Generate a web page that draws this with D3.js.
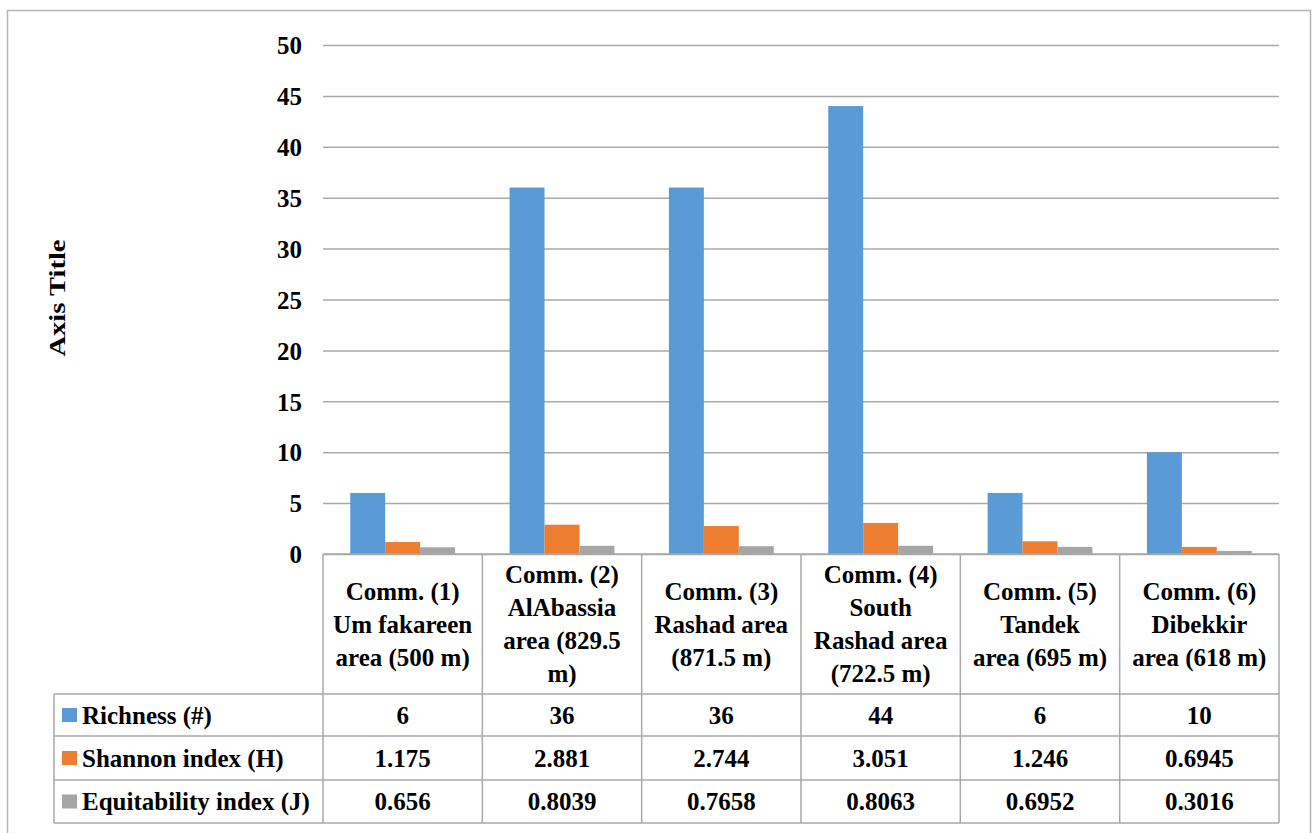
<!DOCTYPE html>
<html>
<head>
<meta charset="utf-8">
<script src="https://cdn.jsdelivr.net/npm/d3@7"></script>
<style>
  html, body { margin: 0; padding: 0; background: #fff; }
</style>
</head>
<body>
<svg id="chart" width="1314" height="833"></svg>
<script>
// chart values
const categories = ['c1', 'c2', 'c3', 'c4', 'c5', 'c6'];
const categoryLines = [
  ['Comm. (1)', 'Um fakareen', 'area (500 m)'],
  ['Comm. (2)', 'AlAbassia', 'area (829.5', 'm)'],
  ['Comm. (3)', 'Rashad area', '(871.5 m)'],
  ['Comm. (4)', 'South', 'Rashad area', '(722.5 m)'],
  ['Comm. (5)', 'Tandek', 'area (695 m)'],
  ['Comm. (6)', 'Dibekkir', 'area (618 m)']
];
const seriesNames = ['Richness (#)', 'Shannon index (H)', 'Equitability index (J)'];
const richness = [6, 36, 36, 44, 6, 10];
const shannon = [1.175, 2.881, 2.744, 3.051, 1.246, 0.6945];
const equitability = [0.656, 0.8039, 0.7658, 0.8063, 0.6952, 0.3016];
const seriesLabels = [
  ['6', '36', '36', '44', '6', '10'],
  ['1.175', '2.881', '2.744', '3.051', '1.246', '0.6945'],
  ['0.656', '0.8039', '0.7658', '0.8063', '0.6952', '0.3016']
];
const yTicks = [0, 5, 10, 15, 20, 25, 30, 35, 40, 45, 50];

const colors = ['#5b9bd5', '#ed7d31', '#a5a5a5'];
const seriesValues = [richness, shannon, equitability];
const gridColor = '#a9a9a9';

const svg = d3.select('#chart');
const label = (sel, size) => sel
  .style('font-family', `"Liberation Serif"`).style('font-weight', 'bold')
  .style('font-size', size + 'px').style('fill', '#000');

// outer frame
svg.append('rect')
  .attr('x', 7.5).attr('y', 10.5)
  .attr('width', 1303).attr('height', 840)
  .attr('fill', 'none').attr('stroke', '#b4b4b4').attr('stroke-width', 1.5);

const plotLeft = 323, plotRight = 1279, plotTop = 45, plotBottom = 554;
const rowEdges = [554, 694, 736, 780, 823];
const legendLeft = 54;

const x0 = d3.scaleBand().domain(categories).range([plotLeft, plotRight]).padding(0);
const x1 = d3.scaleBand().domain(d3.range(seriesNames.length))
  .range([0, x0.bandwidth()]).paddingInner(0).paddingOuter(0.78);
const y = d3.scaleLinear().domain([0, 50]).range([plotBottom, plotTop]);

// gridlines
const yAxis = d3.axisLeft(y).tickValues(yTicks).tickSize(-(plotRight - plotLeft)).tickPadding(21);
const ga = svg.append('g').attr('transform', `translate(${plotLeft},0)`).call(yAxis);
ga.attr('font-family', null).attr('font-size', null);
ga.select('.domain').remove();
ga.selectAll('.tick line').attr('stroke', gridColor).attr('stroke-width', 1.5);
ga.selectAll('.tick text').call(label, 25).attr('dy', '0.35em');

// bars
categories.forEach((c, ci) => {
  seriesValues.forEach((vals, si) => {
    svg.append('rect')
      .attr('x', x0(c) + x1(si))
      .attr('y', y(vals[ci]))
      .attr('width', x1.bandwidth())
      .attr('height', y(0) - y(vals[ci]))
      .attr('fill', colors[si]);
  });
});

// data table
const tg = svg.append('g').attr('stroke', gridColor).attr('stroke-width', 1.5);
rowEdges.forEach((ry, i) => {
  tg.append('line')
    .attr('x1', i === 0 ? plotLeft : legendLeft).attr('x2', plotRight)
    .attr('y1', ry).attr('y2', ry);
});
categories.concat(['end']).forEach((c, i) => {
  const vx = i < categories.length ? x0(c) : plotRight;
  tg.append('line').attr('x1', vx).attr('x2', vx)
    .attr('y1', plotBottom).attr('y2', rowEdges[rowEdges.length - 1]);
});
tg.append('line').attr('x1', legendLeft).attr('x2', legendLeft)
  .attr('y1', rowEdges[1]).attr('y2', rowEdges[4]);

// category labels
const lineGap = 33;
categoryLines.forEach((lines, ci) => {
  const cx = x0(categories[ci]) + x0.bandwidth() / 2;
  const cy = (rowEdges[0] + rowEdges[1]) / 2;
  const startY = cy - (lines.length - 1) * lineGap / 2;
  lines.forEach((t, li) => {
    svg.append('text')
      .attr('x', cx).attr('y', startY + li * lineGap)
      .attr('dy', '0.35em')
      .attr('text-anchor', 'middle')
      .call(label, 25)
      .text(t);
  });
});

// series rows
seriesNames.forEach((name, si) => {
  const cy = (rowEdges[si + 1] + rowEdges[si + 2]) / 2;
  svg.append('rect')
    .attr('x', 62).attr('y', cy - 7)
    .attr('width', 15).attr('height', 14)
    .attr('fill', colors[si]);
  svg.append('text')
    .attr('x', 82).attr('y', cy).attr('dy', '0.35em')
    .call(label, 25)
    .text(name);
  categories.forEach((c, ci) => {
    svg.append('text')
      .attr('x', x0(c) + x0.bandwidth() / 2).attr('y', cy).attr('dy', '0.35em')
      .attr('text-anchor', 'middle')
      .call(label, 25)
      .text(seriesLabels[si][ci]);
  });
});

// axis title
svg.append('text')
  .attr('transform', 'translate(65,298) rotate(-90)')
  .attr('text-anchor', 'middle')
  .call(label, 23)
  .attr('textLength', 117)
  .attr('lengthAdjust', 'spacingAndGlyphs')
  .text('Axis Title');
</script>
</body>
</html>
